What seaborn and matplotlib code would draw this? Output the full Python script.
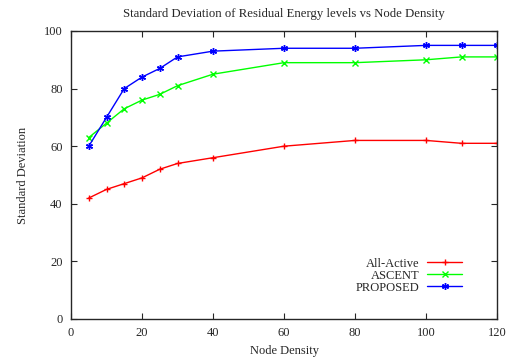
import matplotlib
matplotlib.use("Agg")
import matplotlib.pyplot as plt
import seaborn as sns

node_density = [5, 10, 15, 20, 25, 30, 40, 60, 80, 100, 110, 120]
all_active = [42, 45, 47, 49, 52, 54, 56, 60, 62, 62, 61, 61]
ascent = [63, 68, 73, 76, 78, 81, 85, 89, 89, 90, 91, 91]
proposed = [60, 70, 80, 84, 87, 91, 93, 94, 94, 95, 95, 95]
series_names = ["All-Active", "ASCENT", "PROPOSED"]
series_colors = ["#ff0000", "#00ff00", "#0000ff"]
series_markers = ["+", "x", (6, 2, 0)]

sns.set_style("ticks")
plt.rcParams["font.family"] = ["Liberation Serif", "DejaVu Serif"]
plt.rcParams["xtick.direction"] = "in"
plt.rcParams["ytick.direction"] = "in"

fig = plt.figure(figsize=(5.16, 3.62), dpi=100)
ax = fig.add_axes([0.1376, 0.1188, 0.8256, 0.7956])

for name, vals, c, m in zip(series_names, [all_active, ascent, proposed],
                            series_colors, series_markers):
    sns.lineplot(x=node_density, y=vals, color=c, marker=m, markersize=5,
                 markeredgewidth=1.0, markeredgecolor=c, linewidth=1.0,
                 label=name, ax=ax)

ax.set_xlim(0, 120)
ax.set_ylim(0, 100)
ax.set_xticks(range(0, 121, 20))
ax.set_yticks(range(0, 101, 20))
ax.tick_params(top=True, right=True, labelsize=9, length=4, width=0.8, pad=6)
for s in ax.spines.values():
    s.set_linewidth(1.0)
ax.set_title("Standard Deviation of Residual Energy levels vs Node Density",
             fontsize=9.2, pad=10)
ax.set_xlabel("Node Density", fontsize=9, labelpad=4)
ax.set_ylabel("Standard Deviation", fontsize=9, labelpad=11)

# markerfirst=False puts labels left of the samples, right-aligned like gnuplot
leg = ax.legend(loc="lower right", bbox_to_anchor=(0.93, 0.07), frameon=False,
                markerfirst=False, fontsize=9, handlelength=2.8,
                labelspacing=0.0, handletextpad=0.6, borderaxespad=0)

fig.savefig("out.png", dpi=100)
